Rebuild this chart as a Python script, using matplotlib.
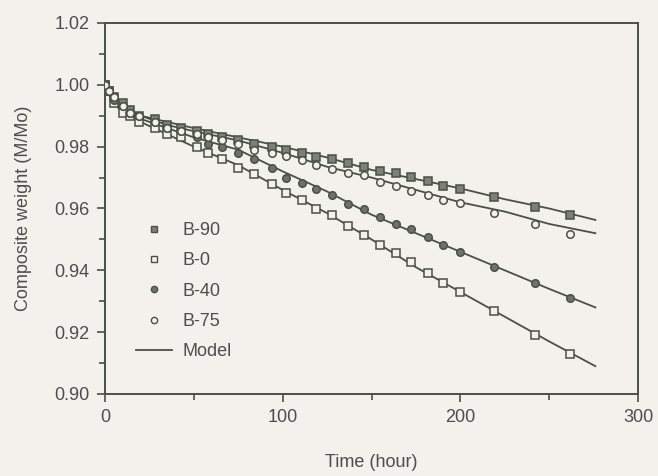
import matplotlib
matplotlib.use("Agg")
import matplotlib.pyplot as plt
from matplotlib.lines import Line2D
from matplotlib.ticker import MultipleLocator, FormatStrFormatter

# Measurement times (hour), shared by all four samples
t = [0, 2, 5, 10, 14, 19, 28, 35, 43, 52, 58, 66, 75, 84, 94, 102,
     111, 119, 128, 137, 146, 155, 164, 172, 182, 190, 200, 219, 242, 262]

b90 = [1.000, 0.998, 0.996, 0.994, 0.992, 0.990, 0.989, 0.987, 0.986, 0.985,
       0.984, 0.983, 0.982, 0.981, 0.980, 0.979, 0.978, 0.9767, 0.976, 0.9747,
       0.9734, 0.9721, 0.9715, 0.9702, 0.9689, 0.9673, 0.9663, 0.9637, 0.9605, 0.9579]
b0 = [1.000, 0.998, 0.994, 0.991, 0.990, 0.988, 0.986, 0.984, 0.983, 0.980,
      0.978, 0.976, 0.973, 0.971, 0.968, 0.965, 0.9627, 0.9598, 0.9579, 0.9543,
      0.9514, 0.9482, 0.9456, 0.9427, 0.9391, 0.9359, 0.933, 0.9268, 0.9191, 0.913]
b40 = [1.000, 0.998, 0.995, 0.993, 0.991, 0.990, 0.988, 0.986, 0.985, 0.983,
       0.981, 0.980, 0.978, 0.976, 0.973, 0.970, 0.9682, 0.9663, 0.9644, 0.9614,
       0.9598, 0.9572, 0.955, 0.9534, 0.9508, 0.9482, 0.9459, 0.9411, 0.9359, 0.931]
b75 = [1.000, 0.998, 0.996, 0.993, 0.991, 0.990, 0.988, 0.986, 0.985, 0.984,
       0.983, 0.982, 0.981, 0.979, 0.978, 0.977, 0.9757, 0.9741, 0.9728, 0.9715,
       0.9708, 0.9686, 0.9673, 0.9657, 0.9644, 0.9627, 0.9618, 0.9585, 0.955, 0.9517]

# Model curves
t_model = [0, 2, 5, 10, 20, 35, 50, 75, 100, 125, 150, 175, 200, 225, 250, 276]
model_b90 = [1.0, 0.997, 0.995, 0.993, 0.990, 0.988, 0.986, 0.983, 0.980, 0.9765,
             0.9725, 0.9695, 0.9665, 0.963, 0.960, 0.9563]
model_b75 = [1.0, 0.997, 0.995, 0.993, 0.990, 0.987, 0.985, 0.982, 0.978, 0.9735,
             0.970, 0.966, 0.962, 0.959, 0.955, 0.952]
model_b40 = [1.0, 0.997, 0.995, 0.992, 0.989, 0.986, 0.983, 0.979, 0.972, 0.9655,
             0.958, 0.952, 0.946, 0.940, 0.934, 0.928]
model_b0 = [1.0, 0.997, 0.994, 0.991, 0.988, 0.984, 0.980, 0.974, 0.966, 0.9585,
            0.950, 0.941, 0.933, 0.925, 0.917, 0.909]

INK = "#4b5046"
TEXT = "#4d4d4d"
BG = "#f3f1ec"
FILL_SQ = "#7d8076"
FILL_CI = "#6e7268"

plt.rcParams["font.family"] = ["Liberation Sans", "DejaVu Sans"]
plt.rcParams["font.size"] = 13

fig = plt.figure(figsize=(6.58, 4.76), dpi=100, facecolor=BG)
ax = fig.add_axes([0.1596, 0.1723, 0.81, 0.7794], facecolor=BG)

for m in (model_b90, model_b75, model_b40, model_b0):
    ax.plot(t_model, m, color=INK, lw=1.3, zorder=2)

ax.plot(t, b90, ls="none", marker="s", ms=5.6, mfc=FILL_SQ, mec=INK, mew=1.1, zorder=3)
ax.plot(t, b0, ls="none", marker="s", ms=5.6, mfc=BG, mec=INK, mew=1.1, zorder=3)
ax.plot(t, b40, ls="none", marker="o", ms=5.4, mfc=FILL_CI, mec=INK, mew=1.1, zorder=3)
ax.plot(t, b75, ls="none", marker="o", ms=5.4, mfc=BG, mec=INK, mew=1.1, zorder=3)

ax.set_xlim(0, 300)
ax.set_ylim(0.90, 1.02)
ax.xaxis.set_major_locator(MultipleLocator(100))
ax.xaxis.set_minor_locator(MultipleLocator(50))
ax.yaxis.set_major_locator(MultipleLocator(0.02))
ax.yaxis.set_minor_locator(MultipleLocator(0.01))
ax.yaxis.set_major_formatter(FormatStrFormatter("%.2f"))
ax.tick_params(which="major", direction="out", length=6, width=1.2, color=INK,
               labelcolor=TEXT, labelsize=13, pad=5)
ax.tick_params(which="minor", direction="out", length=4, width=1.2, color=INK)
for s in ax.spines.values():
    s.set_color(INK)
    s.set_linewidth(1.4)

ax.set_xlabel("Time (hour)", color=TEXT, fontsize=13, labelpad=20)
ax.set_ylabel("Composite weight (M/Mo)", color=TEXT, fontsize=13, labelpad=16)

handles = [
    Line2D([], [], ls="none", marker="s", ms=4.5, mfc=FILL_SQ, mec=INK, mew=1.0),
    Line2D([], [], ls="none", marker="s", ms=4.5, mfc=BG, mec=INK, mew=1.0),
    Line2D([], [], ls="none", marker="o", ms=4.5, mfc=FILL_CI, mec=INK, mew=1.0),
    Line2D([], [], ls="none", marker="o", ms=4.5, mfc=BG, mec=INK, mew=1.0),
    Line2D([], [], color=INK, lw=1.3),
]
leg = ax.legend(handles, ["B-90", "B-0", "B-40", "B-75", "Model"],
                loc="lower left", bbox_to_anchor=(0.0275, 0.047), frameon=False,
                fontsize=13, handlelength=2.0, labelspacing=0.74, handletextpad=0.6)
for txt in leg.get_texts():
    txt.set_color(TEXT)

fig.savefig("out.png", dpi=100, facecolor=BG)
